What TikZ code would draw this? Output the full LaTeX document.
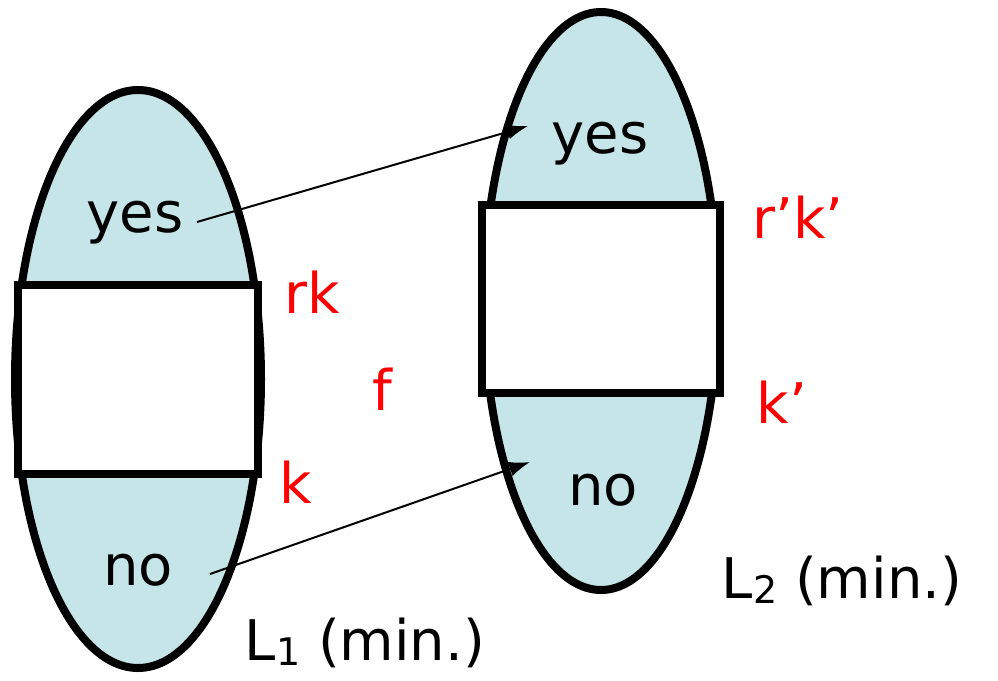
\documentclass[tikz,border=0pt]{standalone}
\usepackage{fontspec}
\setmainfont{DejaVu Sans}
\usetikzlibrary{arrows.meta,calc}
\definecolor{setfill}{HTML}{C5E5E8}
\newcommand{\lowsub}[1]{\raisebox{-5pt}{\fontsize{38}{40}\selectfont #1}}
\begin{document}
\begin{tikzpicture}[x=1pt,y=-1pt,
  setshape/.style={draw=black,line width=8pt,fill=setfill},
  boxshape/.style={draw=black,line width=8pt,fill=white},
  lbl/.style={font=\fontsize{56}{64}\selectfont,inner sep=0pt,anchor=base},
  red lbl/.style={lbl,text=red},
  mapping/.style={line width=2pt,-{Latex[length=21pt,width=15pt]}}]
\useasboundingbox (0,0) rectangle (998,680);
% left set
\draw[setshape] (138,379) ellipse [x radius=123, y radius=289];
\draw[boxshape] (18,285) rectangle (258,474);
% right set
\draw[setshape] (601,301) ellipse [x radius=117, y radius=289];
\draw[boxshape] (482,205) rectangle (720,393);
% texts
\node[lbl] (yes1) at (135,232) {yes};
\node[lbl] (no1) at (138,585) {no};
\node[lbl] (yes2) at (600,153) {yes};
\node[lbl] (no2) at (603,505) {no};
\node[lbl] (L1) at (365,660) {L\lowsub{1} (min.)};
\node[lbl] (L2) at (842,598) {L\lowsub{2} (min.)};
\node[red lbl] (rk) at (312,313) {rk};
\node[red lbl] (k1) at (296,503) {k};
\node[red lbl] (f) at (382,410) {f};
\node[red lbl] (rk2) at (798,238) {r’k’};
\node[red lbl] (k2) at (782,423) {k’};
% arrows
\draw[mapping] ($(yes1.base)+(62,-10)$) -- ($(yes2.base)+(-72,-27)$);
\draw[mapping] ($(no1.base)+(72,-11)$) -- ($(no2.base)+(-73,-43)$);
\end{tikzpicture}
\end{document}
